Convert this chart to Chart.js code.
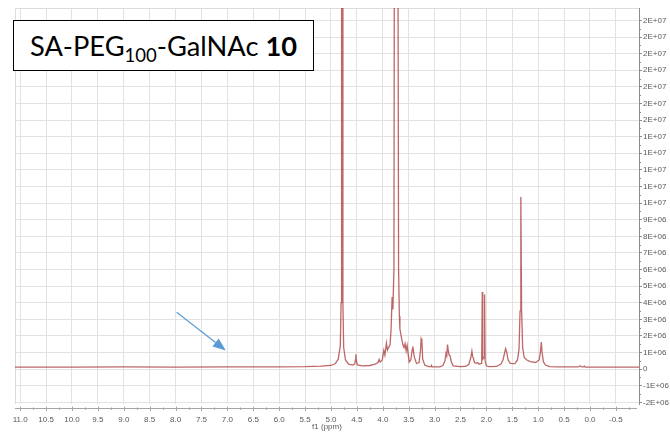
<!DOCTYPE html>
<html><head><meta charset="utf-8">
<script src="https://cdn.jsdelivr.net/npm/chart.js@4.4.1/dist/chart.umd.min.js"></script>
<style>
html,body{margin:0;padding:0;background:#fff;}
#wrap{position:relative;width:670px;height:432px;overflow:hidden;}
#c{position:absolute;left:0;top:0;}
#label{position:absolute;left:13px;top:20px;width:299px;height:49px;border:1.6px solid #000;background:#fff;
 font-family:Lato,'Liberation Sans',sans-serif;font-size:26px;color:#000;display:flex;align-items:center;justify-content:center;white-space:nowrap;}
#label sub{font-size:0.68em;vertical-align:-0.3em;line-height:0;}
#label b{font-weight:700;}
</style></head>
<body>
<div id="wrap">
<canvas id="c" width="670" height="432"></canvas>
<div id="label"><span id="lt">SA-PEG<sub>100</sub>-GalNAc <b>10</b></span></div>
</div>
<script>
// chemical shift (ppm) of each traced point of the spectrum
const ppm = [11.10,10.0,9.0,8.0,7.0,6.0,5.5,5.2,5.0,4.92,4.86,4.82,4.805,4.795,4.78,4.77,4.755,4.72,4.66,4.58,
 4.54,4.53,4.52,4.51,4.49,4.40,4.25,4.15,4.09,4.07,4.05,4.01,3.98,3.96,3.93,3.91,3.89,3.86,3.84,3.82,
 3.805,3.785,3.775,3.71,3.695,3.68,3.67,3.64,3.61,3.59,3.57,3.55,3.53,3.51,3.49,3.46,3.43,3.42,3.40,3.39,
 3.35,3.30,3.27,3.26,3.245,3.23,3.19,3.12,3.07,3.06,3.05,2.90,2.84,2.80,2.78,2.765,2.75,2.735,2.72,2.70,
 2.68,2.64,2.50,2.40,2.34,2.30,2.28,2.265,2.25,2.23,2.20,2.17,2.14,2.10,2.09,2.08,2.07,2.045,2.035,2.025,
 2.00,1.95,1.80,1.72,1.68,1.65,1.63,1.61,1.58,1.54,1.45,1.40,1.37,1.35,1.335,1.32,1.30,1.27,1.22,1.15,
 1.05,0.98,0.955,0.94,0.925,0.90,0.86,0.78,0.60,0.22,0.19,0.16,0.12,0.11,0.09,-0.50,-0.95];
// intensity of each traced point, in units of 1E+06 (values above the axis top are clipped)
const intensity = [0.12,0.12,0.13,0.12,0.13,0.14,0.15,0.18,0.22,0.32,0.6,1.4,4.0,30,30,4.0,1.3,0.55,0.3,0.24,
 0.3,0.55,0.9,0.5,0.25,0.2,0.22,0.3,0.4,0.58,0.42,0.55,1.13,0.85,1.57,1.15,1.3,1.45,2.4,4.34,
 3.6,6,30,30,6,3.2,2.43,1.9,1.45,1.3,1.53,1.1,1.43,0.9,0.42,0.55,1.2,1.37,0.9,0.72,
 0.34,0.4,1.2,1.83,1.7,0.6,0.25,0.15,0.15,0.22,0.14,0.14,0.22,0.5,0.95,0.8,1.48,1.1,0.85,0.8,
 0.45,0.2,0.15,0.16,0.28,0.7,1.08,0.75,0.65,0.4,0.35,0.4,0.3,0.35,0.7,4.64,0.6,0.7,4.5,0.5,
 0.2,0.15,0.16,0.3,0.55,0.95,1.23,1.05,0.55,0.35,0.33,0.55,1.2,3.5,10.36,3.5,1.3,0.7,0.55,0.45,
 0.4,0.55,1.1,1.63,1.0,0.45,0.25,0.15,0.13,0.13,0.2,0.13,0.13,0.18,0.12,0.12,0.12];

const xTickValues = [11.0,10.5,10.0,9.5,9.0,8.5,8.0,7.5,7.0,6.5,6.0,5.5,5.0,4.5,4.0,3.5,3.0,2.5,2.0,1.5,1.0,0.5,0.0,-0.5];
const xTickLabels = ['11.0','10.5','10.0','9.5','9.0','8.5','8.0','7.5','7.0','6.5','6.0','5.5','5.0','4.5','4.0','3.5','3.0','2.5','2.0','1.5','1.0','0.5','0.0','-0.5'];
const yTickValues = [-2,-1,0,1,2,3,4,5,6,7,8,9,10,11,12,13,14,15,16,17,18,19,20,21];
const yTickLabels = ['-2E+06','-1E+06','0','1E+06','2E+06','3E+06','4E+06','5E+06','6E+06','7E+06','8E+06','9E+06',
 '1E+07','1E+07','1E+07','1E+07','1E+07','2E+07','2E+07','2E+07','2E+07','2E+07','2E+07','2E+07'];
const xTitle = 'f1 (ppm)';
// blue arrow annotation, in data coordinates (ppm, 1E+06)
const arrowFrom = [7.98, 3.42];
const arrowTo = [7.03, 1.12];

// fit the label text width
(function(){
  const lt = document.getElementById('lt');
  const w = lt.getBoundingClientRect().width;
  document.getElementById('label').style.fontSize = (26*267/w).toFixed(2)+'px';
})();

const decor = {
  id:'decor',
  beforeDatasetsDraw(chart){
    const {ctx, chartArea:a} = chart;
    ctx.save();
    ctx.strokeStyle='#dcdcdc'; ctx.lineWidth=1;
    ctx.beginPath();
    ctx.moveTo(a.left+0.5, a.bottom); ctx.lineTo(a.left+0.5, a.top+0.5); ctx.lineTo(a.right, a.top+0.5);
    ctx.stroke();
    ctx.restore();
  },
  afterDraw(chart){
    const {ctx, chartArea:a, scales:{x,y}} = chart;
    ctx.save();
    // x axis line with major and minor ticks
    const axY = a.bottom + 4.5;
    ctx.strokeStyle='#a6a6a6'; ctx.lineWidth=1;
    ctx.beginPath(); ctx.moveTo(a.left, axY); ctx.lineTo(a.right-2, axY); ctx.stroke();
    ctx.beginPath();
    xTickValues.forEach((v,i)=>{
      const px = Math.round(x.getPixelForValue(v))+0.5;
      ctx.moveTo(px, axY-2); ctx.lineTo(px, axY+2.5);
      if(i<xTickValues.length-1){
        const m = Math.round(x.getPixelForValue((v+xTickValues[i+1])/2))+0.5;
        ctx.moveTo(m, axY-1); ctx.lineTo(m, axY+1.5);
      }
    });
    const last = xTickValues[xTickValues.length-1]-0.25;
    const lp = Math.round(x.getPixelForValue(last))+0.5;
    ctx.moveTo(lp, axY-1); ctx.lineTo(lp, axY+1.5);
    ctx.stroke();
    // y minor ticks
    ctx.strokeStyle='#8c8c8c';
    ctx.beginPath();
    yTickValues.forEach((v,i)=>{
      if(i<yTickValues.length-1){
        const py = Math.round(y.getPixelForValue(v+0.5))+0.5;
        ctx.moveTo(a.right, py); ctx.lineTo(a.right+2, py);
      }
    });
    ctx.stroke();
    // arrow
    const x0 = x.getPixelForValue(arrowFrom[0]), y0 = y.getPixelForValue(arrowFrom[1]);
    const x1 = x.getPixelForValue(arrowTo[0]), y1 = y.getPixelForValue(arrowTo[1]);
    const ang = Math.atan2(y1-y0, x1-x0), L=13, W=5;
    const bx = x1 - L*Math.cos(ang), by = y1 - L*Math.sin(ang);
    ctx.strokeStyle='#5b9bd5'; ctx.fillStyle='#5b9bd5'; ctx.lineWidth=1.2;
    ctx.beginPath(); ctx.moveTo(x0,y0); ctx.lineTo(bx,by); ctx.stroke();
    ctx.beginPath();
    ctx.moveTo(x1,y1);
    ctx.lineTo(bx - W*Math.sin(ang), by + W*Math.cos(ang));
    ctx.lineTo(bx + W*Math.sin(ang), by - W*Math.cos(ang));
    ctx.closePath(); ctx.fill();
    ctx.restore();
  }
};

new Chart(document.getElementById('c'), {
  type:'line',
  data:{ datasets:[{
    data: ppm.map((p,i)=>({x:p, y:intensity[i]})),
    borderColor:'rgba(165,45,45,0.72)', borderWidth:1.3, pointRadius:0, tension:0, fill:false
  }]},
  options:{
    responsive:false, devicePixelRatio:1, animation:false, events:[],
    layout:{padding:{left:15, top:8, right:0, bottom:0}},
    plugins:{legend:{display:false}, tooltip:{enabled:false}},
    scales:{
      x:{
        type:'linear', reverse:true, min:-0.946, max:11.1,
        afterBuildTicks:s=>{ s.ticks = xTickValues.map(v=>({value:v})); },
        afterFit:s=>{ s.height = 28; },
        grid:{color:'#e2e2e2', lineWidth:1, drawTicks:false},
        border:{display:false},
        ticks:{padding:11, color:'#595959', font:{family:'Liberation Sans', size:8}, maxRotation:0, autoSkip:false,
          callback:(v,i)=>xTickLabels[i]},
        title:{display:true, text:xTitle, color:'#595959', font:{family:'Liberation Sans', size:8}, padding:0}
      },
      y:{
        type:'linear', position:'right', min:-2.1, max:21.75,
        afterBuildTicks:s=>{ s.ticks = yTickValues.map(v=>({value:v})); },
        afterFit:s=>{ s.width = 31; },
        grid:{color:'#e2e2e2', lineWidth:1, drawTicks:true, tickLength:3, tickColor:'#8c8c8c'},
        border:{display:true, color:'#8c8c8c', width:1},
        ticks:{padding:1, color:'#595959', font:{family:'Liberation Sans', size:8}, autoSkip:false,
          callback:(v,i)=>yTickLabels[i]}
      }
    }
  },
  plugins:[decor]
});
</script>
</body></html>
